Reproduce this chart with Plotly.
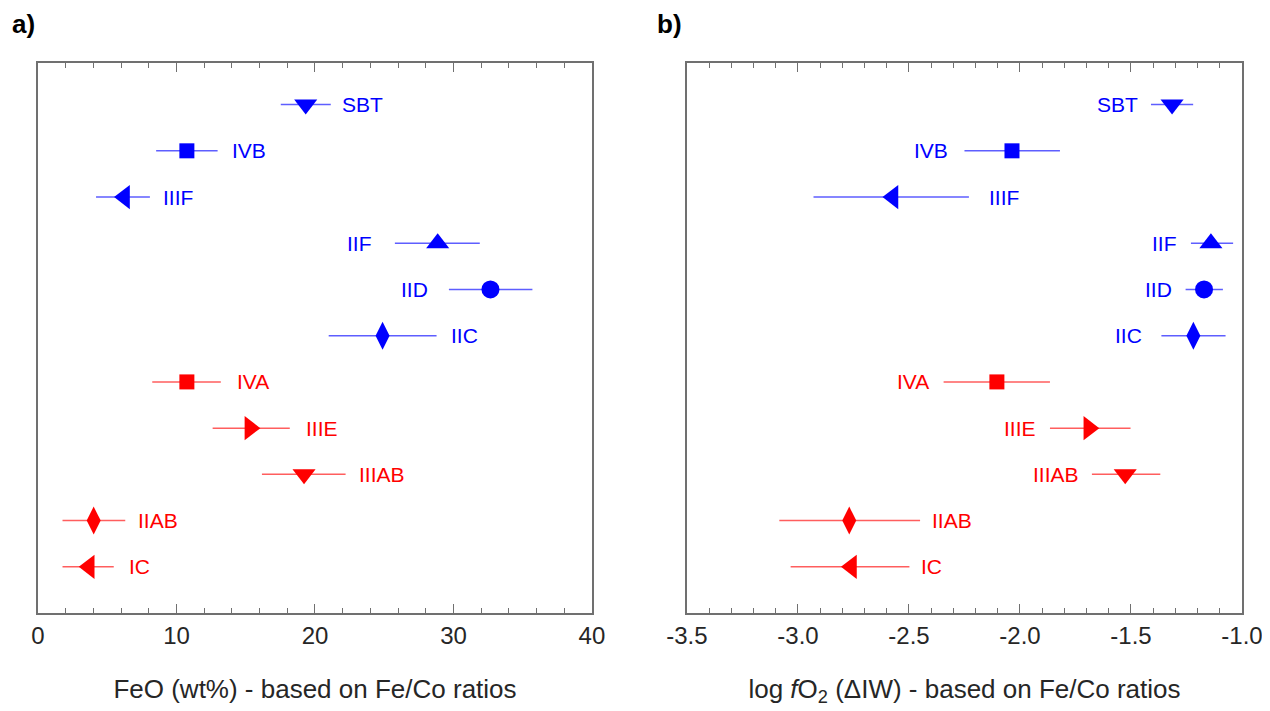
import plotly.graph_objects as go

# ---------------- data ----------------
groups = ["SBT", "IVB", "IIIF", "IIF", "IID", "IIC", "IVA", "IIIE", "IIIAB", "IIAB", "IC"]
group_colour = ["blue", "blue", "blue", "blue", "blue", "blue", "red", "red", "red", "red", "red"]
symbols = ["triangle-down", "square", "triangle-left", "triangle-up", "circle", "diamond-tall",
           "square", "triangle-right", "triangle-down", "diamond-tall", "triangle-left"]

feo = [19.33, 10.75, 6.25, 28.86, 32.67, 24.88, 10.75, 15.30, 19.21, 4.02, 3.70]
feo_lo = [17.53, 8.53, 4.19, 25.77, 29.67, 20.99, 8.25, 12.61, 16.17, 1.77, 1.77]
feo_hi = [21.14, 12.97, 8.08, 31.90, 35.70, 28.78, 13.20, 18.18, 22.21, 6.30, 5.47]

fo2 = [-1.315, -2.036, -2.572, -1.140, -1.171, -1.219, -2.104, -1.690, -1.526, -2.769, -2.759]
fo2_lo = [-1.410, -2.250, -2.930, -1.230, -1.254, -1.363, -2.344, -1.865, -1.676, -3.084, -3.033]
fo2_hi = [-1.220, -1.820, -2.230, -1.040, -1.086, -1.074, -1.865, -1.502, -1.368, -2.450, -2.498]

feo_ticks = [0, 10, 20, 30, 40]
fo2_ticks = [-3.5, -3.0, -2.5, -2.0, -1.5, -1.0]
fo2_ticklabels = ["-3.5", "-3.0", "-2.5", "-2.0", "-1.5", "-1.0"]

# ---------------- styles ----------------
feo_label_side = ["right", "right", "right", "left", "left", "right", "right", "right", "right", "right", "right"]
fo2_label_side = ["left", "left", "right", "left", "left", "left", "left", "left", "left", "right", "right"]
feo_label_gap = [9, 12, 11, 21, 19, 12, 14, 14, 11, 11, 13]
fo2_label_gap = [11, 14, 18, 12, 12, 17, 13, 12, 11, 10, 10]

marker_size = {"triangle-down": 20, "triangle-up": 20, "triangle-left": 21, "triangle-right": 21,
               "square": 15, "circle": 18, "diamond-tall": 20}
solid = {"blue": "#0000FF", "red": "#FF0000"}
bar_col = {"blue": "rgba(40,40,255,0.75)", "red": "rgba(255,40,40,0.75)"}
FONT = "Liberation Sans, Arial, Helvetica, sans-serif"
AXIS_COL = "#707070"
TEXT_COL = "#262626"

n = len(groups)
rows = [n - i for i in range(n)]

fig = go.Figure()
annotations = []

for panel, (vals, lo, hi, sides, gaps, xa, ya) in enumerate([
        (feo, feo_lo, feo_hi, feo_label_side, feo_label_gap, "x", "y"),
        (fo2, fo2_lo, fo2_hi, fo2_label_side, fo2_label_gap, "x2", "y2")]):
    for i in range(n):
        c = group_colour[i]
        fig.add_trace(go.Scatter(
            x=[vals[i]], y=[rows[i]], mode="markers", xaxis=xa, yaxis=ya,
            marker=dict(symbol=symbols[i], size=marker_size[symbols[i]], color=solid[c],
                        line=dict(width=0)),
            error_x=dict(type="data", symmetric=False,
                         array=[hi[i] - vals[i]], arrayminus=[vals[i] - lo[i]],
                         width=0, thickness=1.5, color=bar_col[c]),
            showlegend=False, hoverinfo="skip"))
        if sides[i] == "right":
            ax_x, anchor, shift = hi[i], "left", gaps[i]
        else:
            ax_x, anchor, shift = lo[i], "right", -gaps[i]
        annotations.append(dict(
            x=ax_x, y=rows[i], xref=xa, yref=ya, text=groups[i], showarrow=False,
            xanchor=anchor, yanchor="middle", xshift=shift,
            font=dict(family=FONT, size=21, color=solid[c])))

annotations.append(dict(x=-0.0235, y=1.07, xref="paper", yref="paper", text="<b>a)</b>",
                        showarrow=False, xanchor="left", yanchor="middle",
                        font=dict(family=FONT, size=26, color="black")))
annotations.append(dict(x=0.5125, y=1.07, xref="paper", yref="paper", text="<b>b)</b>",
                        showarrow=False, xanchor="left", yanchor="middle",
                        font=dict(family=FONT, size=26, color="black")))

common_x = dict(showline=True, linecolor=AXIS_COL, linewidth=1.5, mirror="ticks",
                ticks="inside", ticklen=9, tickwidth=1.2, tickcolor=AXIS_COL,
                showgrid=False, zeroline=False, automargin=False,
                ticklabeloverflow="allow",
                tickfont=dict(family=FONT, size=24, color=TEXT_COL))
common_y = dict(showline=True, linecolor=AXIS_COL, linewidth=1.5, mirror=True,
                ticks="", showticklabels=False, showgrid=False, zeroline=False,
                automargin=False, range=[0, n + 0.9], fixedrange=True)

# the page body adds an 8 px margin at top/left; the figure is sized to end at the window edge
fig.update_layout(
    width=1262, height=703,
    margin=dict(l=30, r=28, t=55, b=98),
    paper_bgcolor="white", plot_bgcolor="white",
    xaxis=dict(domain=[0, 0.4601], range=[0, 40], tickvals=feo_ticks,
               minor=dict(dtick=2, ticks="inside", ticklen=5, tickwidth=1, tickcolor=AXIS_COL),
               title=dict(text="FeO (wt%) - based on Fe/Co ratios", standoff=32,
                          font=dict(family=FONT, size=26, color=TEXT_COL)),
               anchor="y", **common_x),
    xaxis2=dict(domain=[0.539, 1], range=[-3.5, -1.0], tickvals=fo2_ticks, ticktext=fo2_ticklabels,
                minor=dict(dtick=0.1, ticks="inside", ticklen=5, tickwidth=1, tickcolor=AXIS_COL),
                title=dict(text="log <i>f</i>O<sub>2</sub> (ΔIW) - based on Fe/Co ratios", standoff=32,
                           font=dict(family=FONT, size=26, color=TEXT_COL)),
                anchor="y2", **common_x),
    yaxis=dict(domain=[0, 1], anchor="x", **common_y),
    yaxis2=dict(domain=[0, 1], anchor="x2", **common_y),
    annotations=annotations,
)

fig.write_html("out.html")
